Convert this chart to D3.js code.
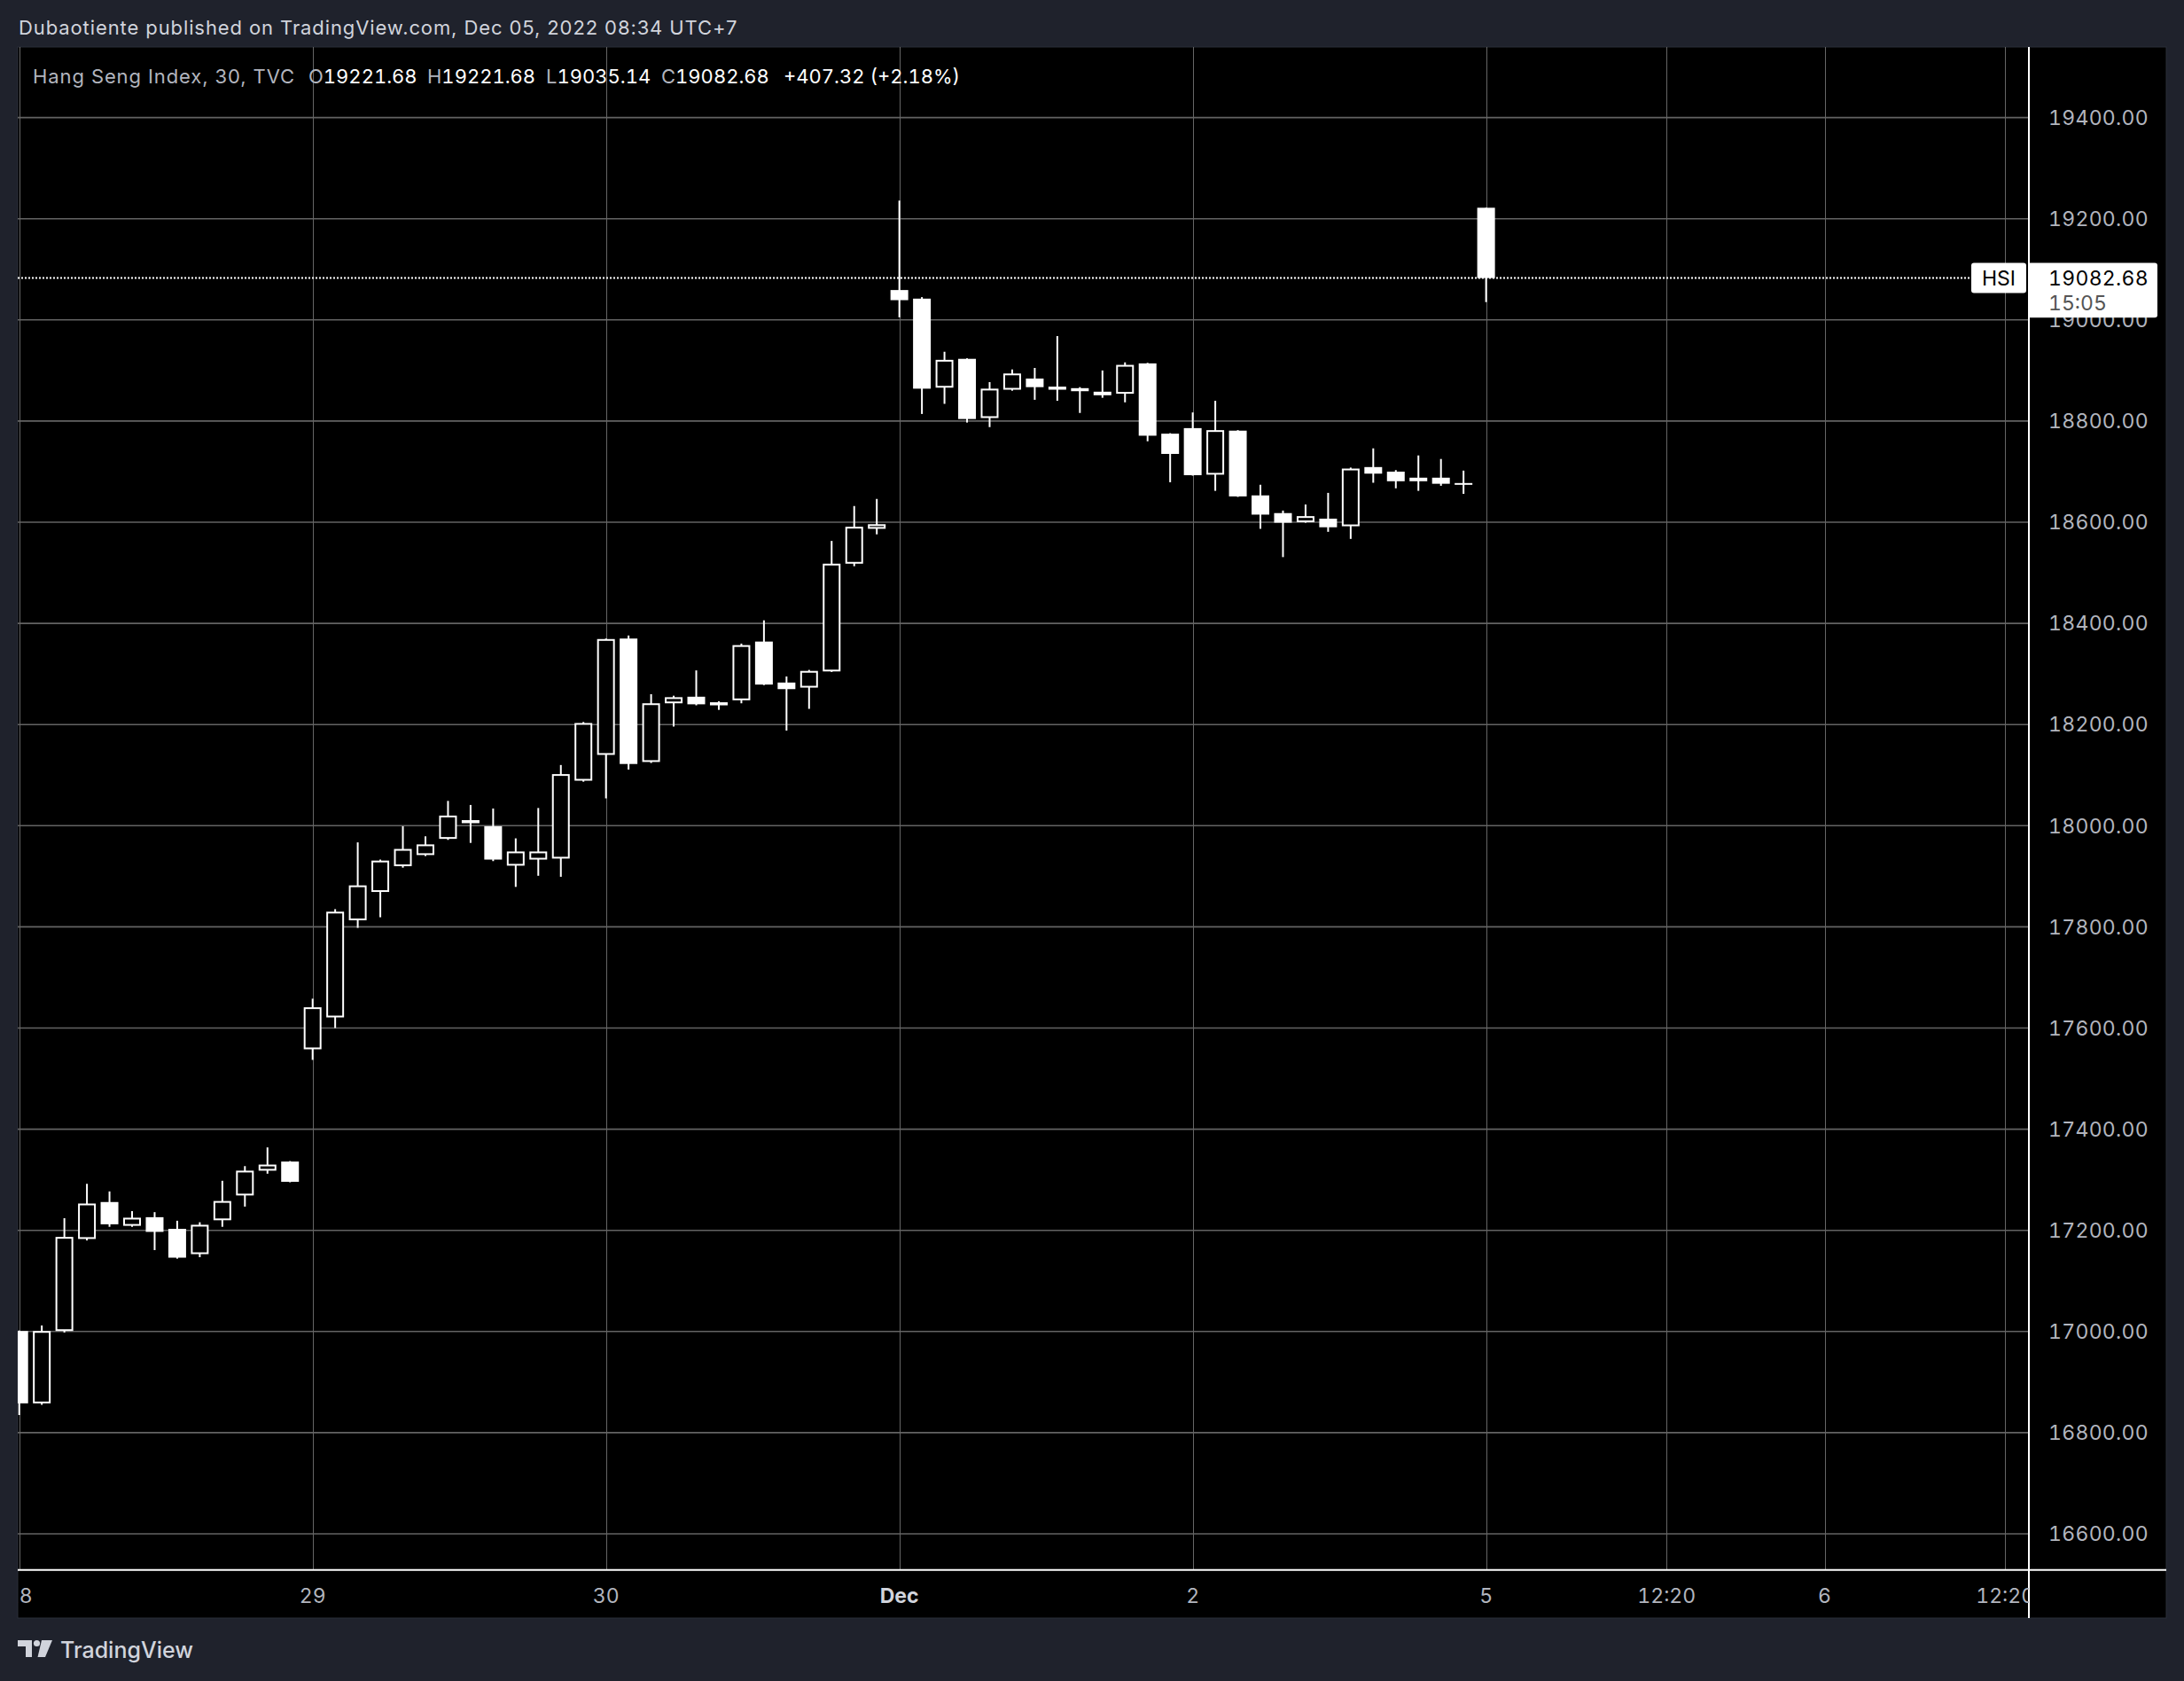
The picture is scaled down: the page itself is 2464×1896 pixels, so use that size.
<!DOCTYPE html>
<html>
<head>
<meta charset="utf-8">
<script src="https://cdn.jsdelivr.net/npm/d3@7"></script>
<style>
html,body{margin:0;padding:0;background:#1f222c;}
svg{display:block;}
text{font-family:Inter,"Noto Sans",Roboto,sans-serif;}
.num{font-variant-numeric:tabular-nums;}
</style>
</head>
<body>
<svg id="chart" width="2464" height="1896"></svg>
<script>
// ---- data (30-min bars, Hang Seng Index, TVC) ----
const opens  = [17001,16858,17001,17183,17256,17209,17226,17203,17153,17220,17269,17318,17336,
                17558,17621,17813,17869,17920,17942,17974,18011,17999,17921,17933,17935,18089,
                18140,18370,18126,18242,18255,18244,18248,18364,18283,18273,18305,18518,18587,
                19059,19042,18866,18923,18806,18862,18884,18868,18865,18858,18854,18914,18775,
                18786,18694,18781,18653,18618,18600,18607,18592,18709,18700,18688,18688,18676,
                19221.68];
const highs  = [17002,17012,17224,17292,17277,17238,17236,17219,17216,17298,17327,17364,17337,
                17658,17835,17967,17933,17999,17979,18049,18041,18034,17975,18035,18120,18205,
                18370,18376,18260,18257,18307,18246,18360,18406,18295,18308,18563,18632,18646,
                19236,19045,18937,18924,18877,18902,18905,18968,18867,18900,18916,18915,18776,
                18817,18840,18782,18674,18623,18635,18658,18708,18746,18703,18732,18725,18702,
                19221.68];
const lows   = [16835,16855,16998,17180,17207,17207,17161,17144,17147,17207,17247,17312,17295,
                17537,17600,17798,17819,17917,17940,17972,17966,17930,17879,17901,17899,18087,
                18054,18111,18124,18196,18238,18229,18242,18278,18188,18231,18304,18513,18576,
                19005,18814,18834,18797,18788,18860,18842,18840,18816,18846,18837,18760,18679,
                18692,18662,18650,18587,18531,18599,18581,18567,18678,18667,18662,18672,18656,
                19035.14];
const closes = [16858,17001,17187,17253,17212,17225,17197,17146,17211,17258,17318,17330,17296,
                17641,17830,17882,17931,17954,17963,18020,18005,17933,17949,17949,18102,18203,
                18369,18122,18242,18254,18240,18238,18357,18279,18270,18306,18518,18591,18596,
                19039,18864,18921,18804,18864,18894,18867,18862,18859,18851,18911,18771,18735,
                18693,18782,18651,18615,18599,18612,18590,18706,18696,18681,18681,18676,18675.36,
                19082.68];
const timeTickLabels = ["28","29","30","Dec","2","5","12:20","6","12:20"];
const timeTickBars   = [0,13,26,39,52,65,73,80,88];
const timeTickBold   = [false,false,false,true,false,false,false,false,false];
const priceTicks = [16600,16800,17000,17200,17400,17600,17800,18000,18200,18400,18600,18800,19000,19200,19400];
const symbol = "HSI";
const lastTime = "15:05";

// ---- layout ----
const svg = d3.select("#chart");
const W = 2464, H = 1896;
const paneL = 20, paneR = 2444, paneT = 53, plotB = 1770.7, axisB = 1825, plotR = 2289;

const x = d3.scaleLinear().domain([0, 88]).range([21.7, 2262.2]);
const y = d3.scaleLinear().domain([16528.7, 19539.5]).range([plotB, paneT]);

const fmt = d3.format(".2f");

// background
svg.append("rect").attr("width", W).attr("height", H).attr("fill", "#1f222c");
svg.append("rect").attr("x", paneL).attr("y", paneT).attr("width", paneR - paneL)
   .attr("height", axisB - paneT).attr("fill", "#000").attr("stroke", "#2a2e39").attr("stroke-width", 1);

// clip for plot
svg.append("clipPath").attr("id", "plotClip").append("rect")
   .attr("x", paneL).attr("y", paneT).attr("width", plotR - paneL).attr("height", plotB - paneT);
svg.append("clipPath").attr("id", "timeClip").append("rect")
   .attr("x", paneL).attr("y", plotB).attr("width", plotR - paneL).attr("height", axisB - plotB);

const plot = svg.append("g").attr("clip-path", "url(#plotClip)");

// grid
plot.append("g").selectAll("line").data(priceTicks).join("line")
   .attr("x1", paneL).attr("x2", plotR)
   .attr("y1", d => y(d)).attr("y2", d => y(d))
   .attr("stroke", "#636363").attr("stroke-width", 1.6);
plot.append("g").selectAll("line").data(timeTickBars).join("line")
   .attr("x1", d => Math.round(x(d)) + 0.5).attr("x2", d => Math.round(x(d)) + 0.5)
   .attr("y1", paneT).attr("y2", plotB)
   .attr("stroke", "#666").attr("stroke-width", 1);

// candles
const bars = d3.range(opens.length);
const bodyW = 20;
const cg = plot.append("g");
bars.forEach(i => {
  const o = opens[i], c = closes[i], hi = highs[i], lo = lows[i];
  const cx = x(i);
  const up = c > o;
  cg.append("line")
    .attr("x1", cx).attr("x2", cx)
    .attr("y1", y(hi)).attr("y2", y(lo))
    .attr("stroke", "#fff").attr("stroke-width", 2);
  const top = y(Math.max(o, c)), bot = y(Math.min(o, c));
  let h = bot - top;
  if (up && h > 4) {
    cg.append("rect")
      .attr("x", cx - bodyW / 2 + 1).attr("y", top + 1)
      .attr("width", bodyW - 2).attr("height", h - 2)
      .attr("fill", "#000").attr("stroke", "#fff").attr("stroke-width", 2);
  } else {
    if (h < 2) { h = 2; }
    cg.append("rect")
      .attr("x", cx - bodyW / 2).attr("y", (top + bot) / 2 - h / 2)
      .attr("width", bodyW).attr("height", h)
      .attr("fill", "#fff");
  }
});

// last price dotted line
const lastIdx = closes.length - 1;
const lastY = y(closes[lastIdx]);
svg.append("line").attr("x1", paneL).attr("x2", 2224).attr("y1", lastY).attr("y2", lastY)
   .attr("stroke", "#fff").attr("stroke-width", 2).attr("stroke-dasharray", "2,2");

// axis separator lines
svg.append("line").attr("x1", paneL).attr("x2", paneR).attr("y1", plotB).attr("y2", plotB)
   .attr("stroke", "#fff").attr("stroke-width", 2);
svg.append("line").attr("x1", plotR).attr("x2", plotR).attr("y1", paneT).attr("y2", axisB)
   .attr("stroke", "#fff").attr("stroke-width", 2);

// price axis labels
svg.append("g").selectAll("text").data(priceTicks).join("text")
   .attr("class", "num")
   .attr("x", 2311).attr("y", d => y(d)).attr("dy", "0.36em")
   .attr("font-size", 23).attr("letter-spacing", 0.3).attr("fill", "#b2b5be")
   .text(d => fmt(d));

// time axis labels
svg.append("g").attr("clip-path", "url(#timeClip)").selectAll("text").data(timeTickBars).join("text")
   .attr("class", "num")
   .attr("x", d => x(d)).attr("y", 1800).attr("dy", "0.36em")
   .attr("text-anchor", "middle").attr("font-size", 23)
   .attr("font-weight", (d, i) => timeTickBold[i] ? 700 : 400)
   .attr("fill", (d, i) => timeTickBold[i] ? "#d1d4dc" : "#b2b5be")
   .text((d, i) => timeTickLabels[i]);

// last price labels
svg.append("rect").attr("x", 2224).attr("y", lastY - 17).attr("width", 62).attr("height", 34)
   .attr("rx", 3).attr("fill", "#fff");
svg.append("text").attr("x", 2255).attr("y", lastY).attr("dy", "0.36em").attr("text-anchor", "middle")
   .attr("font-size", 23).attr("fill", "#000").text(symbol);
svg.append("path")
   .attr("d", `M${plotR},${lastY - 17} H2431 a3,3 0 0 1 3,3 V${lastY + 41.7} a3,3 0 0 1 -3,3 H${plotR} Z`)
   .attr("fill", "#fff");
svg.append("text").attr("class", "num").attr("x", 2311).attr("y", lastY).attr("dy", "0.36em")
   .attr("font-size", 23).attr("letter-spacing", 0.3).attr("fill", "#000").text(fmt(closes[lastIdx]));
svg.append("text").attr("class", "num").attr("x", 2311).attr("y", lastY + 28).attr("dy", "0.36em")
   .attr("font-size", 23).attr("fill", "#555").text(lastTime);

// header
svg.append("text").attr("x", 21).attr("y", 31).attr("dy", "0.36em")
   .attr("font-size", 22).attr("letter-spacing", 0.9).attr("fill", "#d1d4dc")
   .text("Dubaotiente published on TradingView.com, Dec 05, 2022 08:34 UTC+7");

// legend
const prevClose = closes[lastIdx - 1];
const chg = closes[lastIdx] - prevClose;
const legend = svg.append("g").attr("font-size", 22);
legend.append("text").attr("x", 37).attr("y", 86).attr("dy", "0.36em").attr("fill", "#b2b5be")
   .attr("letter-spacing", 0.9).text("Hang Seng Index, 30, TVC");
const items = [["O", opens[lastIdx], 348], ["H", highs[lastIdx], 482], ["L", lows[lastIdx], 616], ["C", closes[lastIdx], 746]];
items.forEach(([k, v, px]) => {
  const t = legend.append("text").attr("class", "num").attr("x", px).attr("y", 86).attr("dy", "0.36em");
  t.append("tspan").attr("fill", "#b2b5be").text(k);
  t.append("tspan").attr("fill", "#fff").text(fmt(v));
});
legend.append("text").attr("class", "num").attr("x", 884).attr("y", 86).attr("dy", "0.36em").attr("fill", "#fff")
   .text(`+${fmt(chg)} (+${fmt(chg / prevClose * 100)}%)`);

// TradingView logo
const logo = svg.append("g").attr("fill", "#d1d4dc");
logo.append("path").attr("d", "M20,1850 H36 V1869 H29 V1857 H20 Z");
logo.append("circle").attr("cx", 41.5).attr("cy", 1853.5).attr("r", 3.6);
logo.append("path").attr("d", "M47,1850 H59 L51,1869 H42.5 Z");
svg.append("text").attr("x", 68).attr("y", 1861).attr("dy", "0.36em")
   .attr("font-size", 25).attr("font-weight", 500).attr("fill", "#d1d4dc").text("TradingView");
</script>
</body>
</html>
